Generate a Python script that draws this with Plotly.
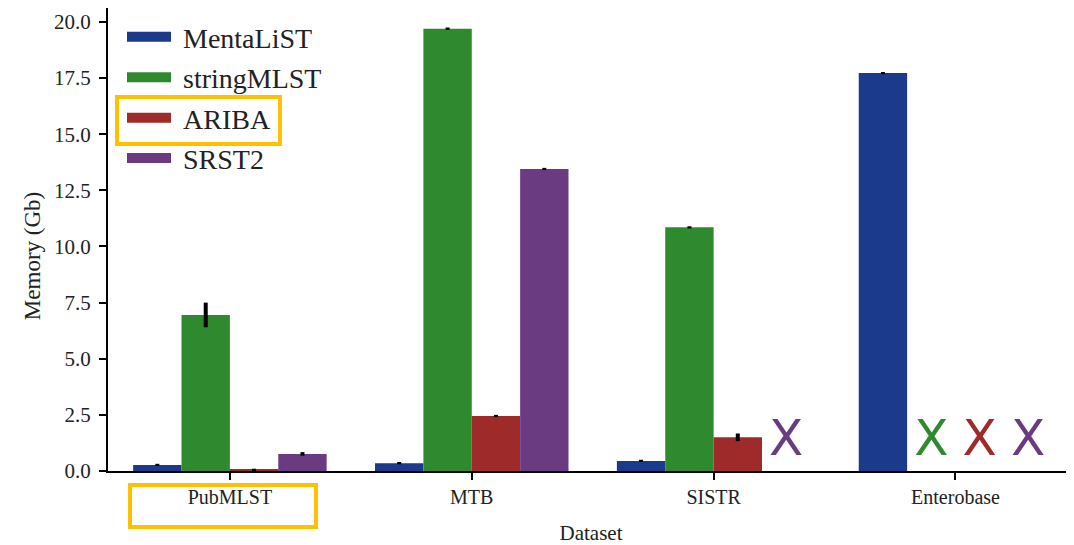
import plotly.graph_objects as go

datasets = ["PubMLST", "MTB", "SISTR", "Enterobase"]
tools = ["MentaLiST", "stringMLST", "ARIBA", "SRST2"]
colors = ["#1c3a8c", "#2f8a2f", "#9e2a2a", "#6b3b82"]

mentalist = [0.27, 0.35, 0.45, 17.72]
stringmlst = [6.95, 19.70, 10.85, None]
ariba = [0.05, 2.45, 1.50, None]
srst2 = [0.76, 13.45, None, None]

mentalist_err = [0.05, 0.05, 0.05, 0.05]
stringmlst_err = [0.55, 0.05, 0.05, 0.0]
ariba_err = [0.05, 0.05, 0.17, 0.0]
srst2_err = [0.08, 0.05, 0.0, 0.0]

values = [mentalist, stringmlst, ariba, srst2]
errors = [mentalist_err, stringmlst_err, ariba_err, srst2_err]

fail_mark_height = 1.25
font = "Liberation Serif"

fig = go.Figure()
xs = list(range(len(datasets)))
n = len(tools)
group_width = 0.8
bw = group_width / n

for i, (tool, vals, errs, col) in enumerate(zip(tools, values, errors, colors)):
    offset = -group_width / 2 + bw * (i + 0.5)
    fig.add_trace(go.Bar(
        x=xs, y=[v if v is not None else 0 for v in vals], name=tool,
        marker=dict(color=col, line=dict(width=0)),
        error_y=dict(type="data", array=[e if v is not None else 0 for v, e in zip(vals, errs)],
                     color="black", thickness=4, width=0, visible=True),
        showlegend=False, legendgroup=tool,
    ))
    fig.add_trace(go.Scatter(
        x=[None], y=[None], mode="lines", name="\u00a0" + tool,
        line=dict(color=col, width=13), legendgroup=tool, showlegend=True,
    ))
    fx = [x + offset for x, v in zip(xs, vals) if v is None]
    if fx:
        fig.add_trace(go.Scatter(
            x=fx, y=[fail_mark_height] * len(fx), mode="text", text=["X"] * len(fx),
            textfont=dict(family="DejaVu Sans", size=50, color=col),
            showlegend=False, hoverinfo="skip",
        ))

fig.update_layout(
    barmode="group", bargap=0.2, bargroupgap=0,
    width=1066, height=537,
    margin=dict(l=100, r=0, t=0, b=74, autoexpand=False),
    plot_bgcolor="white", paper_bgcolor="white",
    font=dict(family=font, size=20, color="#222"),
    legend=dict(x=0.0145, y=0.991, xanchor="left", yanchor="top",
                font=dict(family=font, size=28, color="#222"),
                traceorder="grouped", tracegroupgap=1, bgcolor="rgba(0,0,0,0)",
                itemwidth=44),
    xaxis=dict(range=[-0.504, 3.49], tickmode="array", tickvals=xs, ticktext=datasets,
               showline=True, linecolor="black", linewidth=2, ticks="outside",
               ticklen=7, tickwidth=2, tickcolor="black", showgrid=False, zeroline=False,
               tickfont=dict(size=20), automargin=False,
               title=dict(text="Dataset", font=dict(size=21), standoff=18)),
    yaxis=dict(range=[0, 20.62], tickmode="array",
               tickvals=[0, 2.5, 5, 7.5, 10, 12.5, 15, 17.5, 20],
               ticktext=["0.0", "2.5", "5.0", "7.5", "10.0", "12.5", "15.0", "17.5", "20.0"],
               showline=True, linecolor="black", linewidth=2, ticks="outside",
               ticklen=7, tickwidth=2, tickcolor="black", showgrid=False, zeroline=False,
               tickfont=dict(size=21), automargin=False, ticklabelstandoff=4),
    annotations=[
        dict(text="Memory (Gb)", xref="paper", yref="paper", x=-0.0787, y=0.464,
             textangle=-90, showarrow=False, xanchor="center", yanchor="middle",
             font=dict(family=font, size=23, color="#222")),
    ],
    shapes=[
        dict(type="rect", xref="paper", yref="paper", x0=0.0093, x1=0.178, y0=0.7063, y1=0.8078,
             line=dict(color="#FFC000", width=4)),
        dict(type="rect", xref="paper", yref="paper", x0=0.0228, x1=0.2153, y0=-0.121, y1=-0.0302,
             line=dict(color="#FFC000", width=4)),
    ],
)

fig.write_html("out.html")
